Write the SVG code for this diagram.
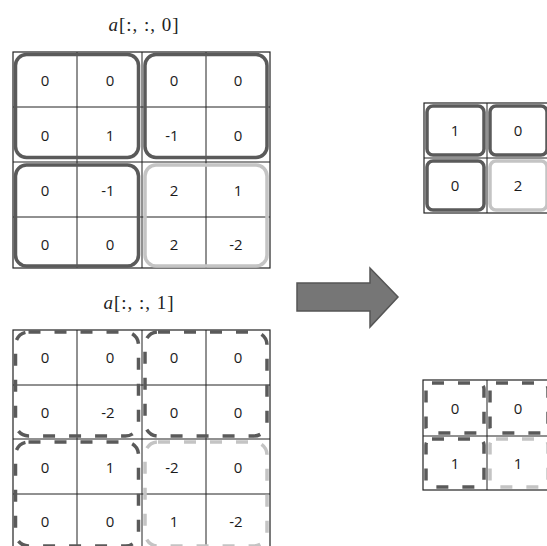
<svg xmlns="http://www.w3.org/2000/svg" width="547" height="546" viewBox="0 0 547 546">
<style>
.grid{fill:#fff;stroke:#222;stroke-width:1.2}
.ln{stroke:#222;stroke-width:1}
.num{font-family:"Open Sans","Liberation Sans",sans-serif;font-size:15px;fill:#1a1a1a;text-anchor:middle;dominant-baseline:central}
.lbl{font-family:"Liberation Serif",serif;font-size:19px;fill:#222;text-anchor:middle;letter-spacing:1px}
.dk{fill:none;stroke:#5a5a5a;stroke-width:3.5}
.lt{fill:none;stroke:#c4c4c4;stroke-width:3.5}
.dkd{fill:none;stroke:#5a5a5a;stroke-width:3.5;stroke-dasharray:12 14}
.ltd{fill:none;stroke:#c4c4c4;stroke-width:3.5;stroke-dasharray:12 14}
</style>
<rect width="547" height="546" fill="#fff"/>

<g id="label0"><text class="lbl" x="144" y="31"><tspan font-style="italic">a</tspan>[:, :, 0]</text></g>
<g id="grid0">
<rect class="grid" x="13" y="52" width="257" height="216"/>
<line class="ln" x1="77" y1="52" x2="77" y2="268"/>
<line class="ln" x1="142" y1="52" x2="142" y2="268"/>
<line class="ln" x1="206" y1="52" x2="206" y2="268"/>
<line class="ln" x1="13" y1="107" x2="270" y2="107"/>
<line class="ln" x1="13" y1="162" x2="270" y2="162"/>
<line class="ln" x1="13" y1="217" x2="270" y2="217"/>
<rect class="dk" x="15.5" y="54.5" width="123" height="103" rx="11"/>
<rect class="dk" x="145" y="54.5" width="122" height="103" rx="11"/>
<rect class="dk" x="15.5" y="165" width="123" height="101" rx="11"/>
<rect class="lt" x="145" y="165" width="122" height="101" rx="11"/>
<text class="num" x="45" y="80">0</text><text class="num" x="110" y="80">0</text><text class="num" x="174" y="80">0</text><text class="num" x="238" y="80">0</text>
<text class="num" x="45" y="135">0</text><text class="num" x="110" y="135">1</text><text class="num" x="172" y="135">-1</text><text class="num" x="238" y="135">0</text>
<text class="num" x="45" y="190">0</text><text class="num" x="108" y="190">-1</text><text class="num" x="174" y="190">2</text><text class="num" x="238" y="190">1</text>
<text class="num" x="45" y="244">0</text><text class="num" x="110" y="244">0</text><text class="num" x="174" y="244">2</text><text class="num" x="236" y="244">-2</text>
</g>

<g id="label1"><text class="lbl" x="139" y="309"><tspan font-style="italic">a</tspan>[:, :, 1]</text></g>
<g id="grid1">
<rect class="grid" x="13" y="330" width="257" height="220"/>
<line class="ln" x1="77" y1="330" x2="77" y2="546"/>
<line class="ln" x1="142" y1="330" x2="142" y2="546"/>
<line class="ln" x1="206" y1="330" x2="206" y2="546"/>
<line class="ln" x1="13" y1="385" x2="270" y2="385"/>
<line class="ln" x1="13" y1="439" x2="270" y2="439"/>
<line class="ln" x1="13" y1="494" x2="270" y2="494"/>
<rect class="dkd" x="15.5" y="332" width="123" height="104" rx="13"/>
<rect class="dkd" x="145" y="332" width="122" height="104" rx="13"/>
<rect class="dkd" x="15.5" y="442" width="123" height="104" rx="13"/>
<rect class="ltd" x="145" y="442" width="122" height="104" rx="13"/>
<text class="num" x="45" y="357">0</text><text class="num" x="110" y="357">0</text><text class="num" x="174" y="357">0</text><text class="num" x="238" y="357">0</text>
<text class="num" x="45" y="412">0</text><text class="num" x="108" y="412">-2</text><text class="num" x="174" y="412">0</text><text class="num" x="238" y="412">0</text>
<text class="num" x="45" y="467">0</text><text class="num" x="110" y="467">1</text><text class="num" x="172" y="467">-2</text><text class="num" x="238" y="467">0</text>
<text class="num" x="45" y="521">0</text><text class="num" x="110" y="521">0</text><text class="num" x="174" y="521">1</text><text class="num" x="236" y="521">-2</text>
</g>

<g id="arrow">
<path d="M297,283 L370,283 L370,268 L398,297 L370,327 L370,311 L297,311 Z" fill="#767676" stroke="#555" stroke-width="1.5"/>
</g>

<g id="out0">
<rect class="grid" x="424" y="103" width="130" height="110"/>
<line class="ln" x1="487" y1="103" x2="487" y2="213"/>
<line class="ln" x1="424" y1="158" x2="554" y2="158"/>
<rect class="dk" x="427" y="106" width="57" height="49" rx="6"/>
<rect class="dk" x="490" y="106" width="57" height="49" rx="6"/>
<rect class="dk" x="427" y="161" width="57" height="49" rx="6"/>
<rect class="lt" x="490" y="161" width="57" height="49" rx="6"/>
<text class="num" x="455" y="130">1</text><text class="num" x="518" y="130">0</text>
<text class="num" x="455" y="185">0</text><text class="num" x="518" y="185">2</text>
</g>

<g id="out1">
<rect class="grid" x="423" y="380" width="131" height="110"/>
<line class="ln" x1="487" y1="380" x2="487" y2="490"/>
<line class="ln" x1="423" y1="436" x2="554" y2="436"/>
<rect class="dkd" x="426" y="383" width="58" height="50" rx="6" stroke-dasharray="10 12"/>
<rect class="dkd" x="490" y="383" width="58" height="50" rx="6" stroke-dasharray="10 12"/>
<rect class="dkd" x="426" y="439" width="58" height="48" rx="6" stroke-dasharray="10 12"/>
<rect class="ltd" x="490" y="439" width="58" height="48" rx="6" stroke-dasharray="10 12"/>
<text class="num" x="455" y="408">0</text><text class="num" x="518" y="408">0</text>
<text class="num" x="455" y="463">1</text><text class="num" x="518" y="463">1</text>
</g>
</svg>
